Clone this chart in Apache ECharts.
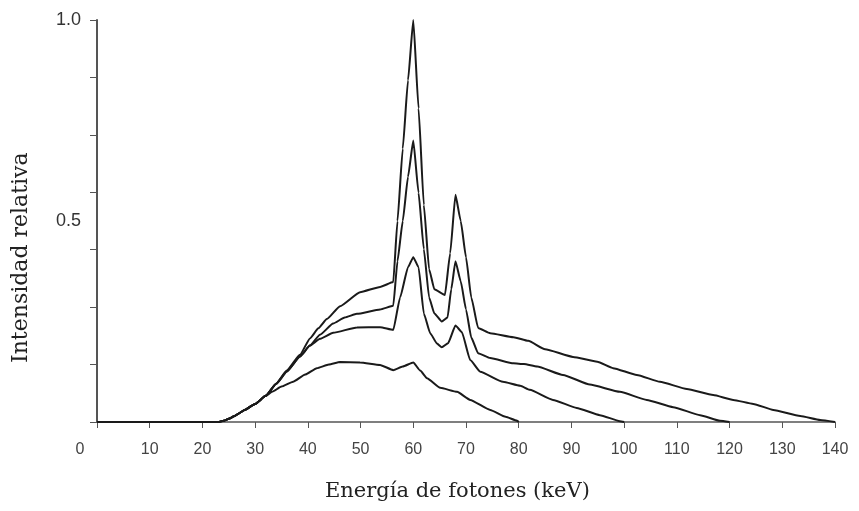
<!DOCTYPE html>
<html>
<head>
<meta charset="utf-8">
<script src="https://cdn.jsdelivr.net/npm/echarts@6/dist/echarts.min.js"></script>
<style>
  html, body { margin: 0; padding: 0; background: #fff; }
  #espectro { width: 859px; height: 511px; }
</style>
</head>
<body>
<div id="espectro"></div>
<script>
// datos: [energia keV, intensidad relativa]
var subida = [[0, 0], [23, 0], [24, 0.003], [25, 0.008], [26, 0.014], [27, 0.022], [28, 0.03], [30, 0.045], [32, 0.065]];

var kv140 = [[34, 0.096], [36, 0.128], [38.5, 0.167], [40.4, 0.208], [42, 0.233], [43.6, 0.256], [46.1, 0.288], [49.9, 0.323],
  [53.7, 0.336], [56.2, 0.348], [57, 0.5], [58, 0.68], [59, 0.85], [60, 1.0], [61, 0.78], [62, 0.54], [63, 0.38],
  [64, 0.33], [66, 0.316], [67, 0.42], [68, 0.565], [69, 0.5], [70, 0.41], [71, 0.31], [72.3, 0.234], [74.6, 0.221],
  [79, 0.211], [81.8, 0.202], [85, 0.181], [90.3, 0.162], [94.9, 0.15], [97.9, 0.134], [102.4, 0.117], [106.8, 0.1],
  [111.9, 0.082], [116.9, 0.067], [120.7, 0.055], [124.5, 0.045], [128.3, 0.03], [133.4, 0.015], [137.2, 0.005], [140, 0]];

var kv120 = [[34, 0.095], [36, 0.126], [38.5, 0.163], [40.4, 0.19], [42.3, 0.217], [44.8, 0.245], [47, 0.26],
  [49.3, 0.269], [53.7, 0.28], [56.2, 0.289], [57, 0.4], [58, 0.5], [59, 0.61], [60, 0.70], [61, 0.57], [62, 0.43],
  [63, 0.31], [64, 0.27], [65.4, 0.25], [66.5, 0.26], [67.2, 0.33], [68, 0.40], [69, 0.35], [70, 0.28], [71, 0.21],
  [72.3, 0.171], [74.6, 0.159], [79, 0.146], [81, 0.144], [83.5, 0.138], [88.4, 0.117], [93.5, 0.093], [99.2, 0.075],
  [104.3, 0.055], [109.3, 0.037], [114.4, 0.017], [118.2, 0.003], [120, 0]];

var kv100 = [[34, 0.095], [36, 0.125], [38.5, 0.163], [40.4, 0.19], [42.3, 0.207], [44.8, 0.222], [49.3, 0.235],
  [53.7, 0.236], [56.2, 0.229], [57.5, 0.31], [59, 0.385], [60, 0.41], [61, 0.385], [62, 0.27], [63.2, 0.221],
  [64.5, 0.195], [65.4, 0.186], [66.6, 0.196], [68, 0.24], [69.2, 0.224], [70.8, 0.154], [72.7, 0.125], [77, 0.1],
  [80.3, 0.09], [82.1, 0.08], [86.5, 0.055], [91, 0.035], [95.4, 0.017], [99.2, 0.002], [100, 0]];

var kv80 = [[33.2, 0.075], [35, 0.088], [37.2, 0.1], [39.5, 0.118], [41.7, 0.134], [44, 0.143], [46.1, 0.149],
  [49.9, 0.148], [53.7, 0.142], [56.2, 0.129], [58, 0.138], [60, 0.148], [61.3, 0.128], [62.6, 0.109], [65.1, 0.085],
  [68.3, 0.075], [70.8, 0.055], [74.6, 0.03], [77.5, 0.013], [79.7, 0.003], [80, 0]];

var etiquetasY = ['0.5', '1.0'];

var espectro = echarts.init(document.getElementById('espectro'));

function curva(nombre, datos) {
    return {
        name: nombre,
        type: 'line',
        data: subida.concat(datos),
        showSymbol: false,
        smooth: 0.15,
        smoothMonotone: 'x',
        lineStyle: { color: '#1a1a1a', width: 2 },
        z: 3
    };
}

var opcion = {
    animation: false,
    grid: { left: 97, right: 24, top: 20, bottom: 89 },
    xAxis: {
        type: 'value',
        min: 0,
        max: 140,
        interval: 10,
        splitLine: { show: false },
        axisLine: { onZero: false, lineStyle: { color: '#555', width: 1.5 } },
        axisTick: { inside: false, length: 6, lineStyle: { color: '#555', width: 1 } },
        axisLabel: {
            margin: 20,
            fontFamily: 'Liberation Sans',
            fontSize: 16,
            color: '#444',
            formatter: function (v) { return v === 0 ? '{z|0}' : String(v); },
            rich: { z: { fontFamily: 'Liberation Sans', fontSize: 16, color: '#444', padding: [0, 34, 0, 0] } }
        }
    },
    yAxis: [{
        type: 'value',
        min: 0,
        max: 1,
        interval: 1 / 7,
        splitLine: { show: false },
        axisLine: { show: true, lineStyle: { color: '#555', width: 2 } },
        axisTick: { show: true, inside: false, length: 7, lineStyle: { color: '#555', width: 1 } },
        axisLabel: { show: false }
    }, {
        type: 'value',
        position: 'left',
        min: 0,
        max: 1,
        interval: 0.5,
        splitLine: { show: false },
        axisLine: { show: false },
        axisTick: { show: false },
        axisLabel: {
            margin: 16,
            fontFamily: 'Liberation Sans',
            fontSize: 18,
            color: '#333',
            formatter: function (v) {
                if (v === 0.5) return etiquetasY[0];
                if (v === 1) return etiquetasY[1];
                return '';
            }
        }
    }],
    graphic: [{
        type: 'text',
        left: 325,
        top: 481,
        style: {
            text: 'Energía de fotones (keV)',
            font: '21px "DejaVu Serif"',
            fill: '#222'
        }
    }, {
        type: 'text',
        x: 10,
        y: 363,
        rotation: Math.PI / 2,
        style: {
            text: 'Intensidad relativa',
            font: '22px "DejaVu Serif"',
            fill: '#222'
        }
    }],
    series: [
        curva('140 kVp', kv140),
        curva('120 kVp', kv120),
        curva('100 kVp', kv100),
        curva('80 kVp', kv80)
    ]
};
espectro.setOption(opcion);
</script>
</body>
</html>
